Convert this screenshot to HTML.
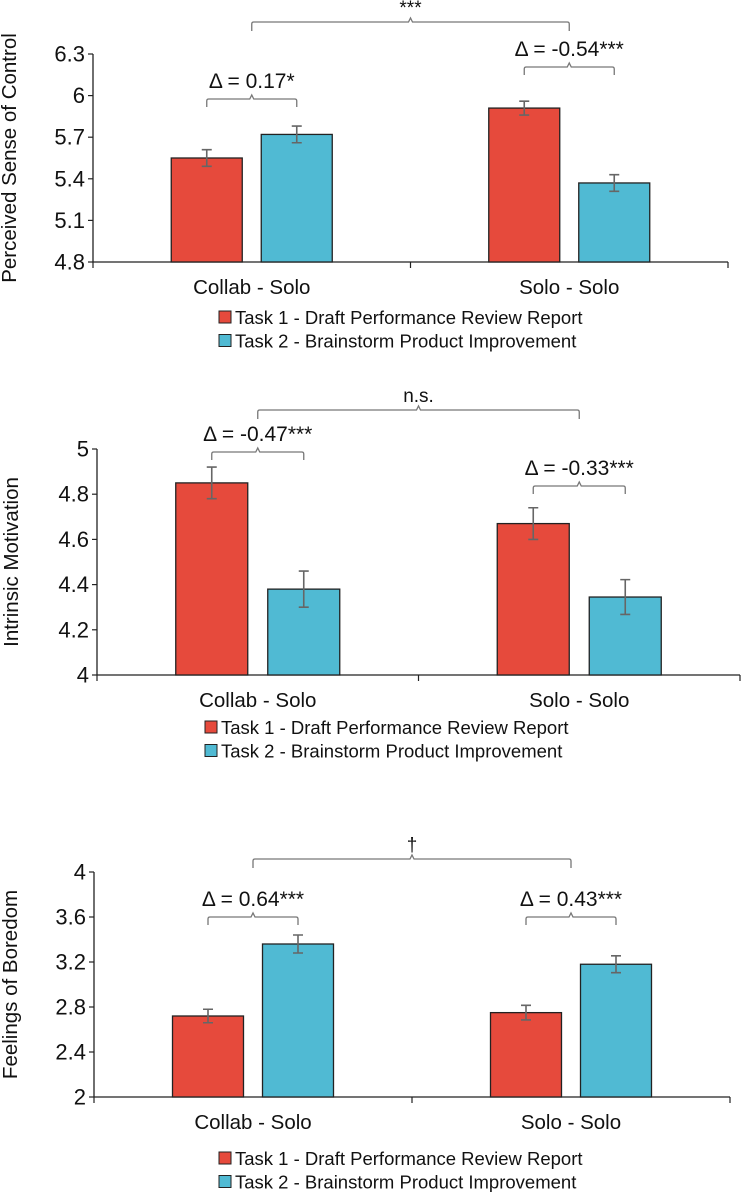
<!DOCTYPE html>
<html><head><meta charset="utf-8"><style>
body{margin:0;background:#fff}
svg{display:block;font-family:"Liberation Sans",Arial,sans-serif}
</style></head><body>
<svg id="s" width="741" height="1192" viewBox="0 0 741 1192"></svg>
<script>
const categories = ["Collab - Solo", "Solo - Solo"];
const seriesNames = ["Task 1 - Draft Performance Review Report", "Task 2 - Brainstorm Product Improvement"];
// chart 1: Perceived Sense of Control
const c1Task1 = [5.55, 5.91];
const c1Task2 = [5.72, 5.37];
const c1Err1 = [0.06, 0.05];
const c1Err2 = [0.06, 0.06];
const c1Ticks = [4.8, 5.1, 5.4, 5.7, 6, 6.3];
const c1Deltas = ["Δ = 0.17*", "Δ = -0.54***"];
const c1Top = "***";
// chart 2: Intrinsic Motivation
const c2Task1 = [4.85, 4.67];
const c2Task2 = [4.38, 4.345];
const c2Err1 = [0.07, 0.07];
const c2Err2 = [0.08, 0.077];
const c2Ticks = [4, 4.2, 4.4, 4.6, 4.8, 5];
const c2Deltas = ["Δ = -0.47***", "Δ = -0.33***"];
const c2Top = "n.s.";
// chart 3: Feelings of Boredom
const c3Task1 = [2.72, 2.75];
const c3Task2 = [3.36, 3.18];
const c3Err1 = [0.06, 0.065];
const c3Err2 = [0.08, 0.075];
const c3Ticks = [2, 2.4, 2.8, 3.2, 3.6, 4];
const c3Deltas = ["Δ = 0.64***", "Δ = 0.43***"];
const c3Top = "†";

const NS="http://www.w3.org/2000/svg";
const svg=document.getElementById('s');
function mk(tag,attrs,parent,text){const e=document.createElementNS(NS,tag);for(const k in attrs)e.setAttribute(k,attrs[k]);if(text!==undefined)e.textContent=text;(parent||svg).appendChild(e);return e;}

function chart(o){
  const g=mk('g',{});
  
  
  const y=v=>o.y0-(v-o.min)/(o.max-o.min)*(o.y0-o.y1);
  const gw=(o.x1-o.x0)/categories.length;
  const cx=i=>o.x0+gw*(i+0.5);
  const ax=mk('path',{d:`M${o.x0} ${o.y1}V${o.y0}H${o.x1}`,stroke:'#222','stroke-width':1.3,fill:'none'},g);
  
  
  o.ticks.forEach(t=>{
    mk('line',{x1:o.x0-5,x2:o.x0,y1:y(t),y2:y(t),stroke:'#222','stroke-width':1.2},g);
    const tl=mk('text',{x:o.x0-8,y:y(t)+7.5,'text-anchor':'end','font-size':22,fill:'#111'},g,String(t));
    
    
  });
  for(let i=0;i<=categories.length;i++){
    const xx=o.x0+gw*i;
    mk('line',{x1:xx,x2:xx,y1:o.y0,y2:o.y0+6,stroke:'#222','stroke-width':1.2},g);
  }
  const yt=mk('text',{transform:`translate(${o.titleX},${(o.y0+o.y1)/2}) rotate(-90)`,'text-anchor':'middle','font-size':20.5,fill:'#111'},g,o.title);
  
  
  const series=[[o.s1,o.e1,'#e64a3c'],[o.s2,o.e2,'#50bad3']];
  categories.forEach((c,i)=>{
    series.forEach((s,j)=>{
      const bx=cx(i)+(j===0?-o.off:o.off)-o.bw/2;
      const top=y(s[0][i]);
      const b=mk('rect',{x:bx,y:top,width:o.bw,height:o.y0-top,fill:s[2],stroke:'#222','stroke-width':1.3},g);
      
      
      const mx=bx+o.bw/2,ea=y(s[0][i]+s[1][i]),eb=y(s[0][i]-s[1][i]);
      const eb1=mk('path',{d:`M${mx} ${ea}V${eb}M${mx-5} ${ea}H${mx+5}M${mx-5} ${eb}H${mx+5}`,stroke:'#666','stroke-width':1.6,fill:'none'},g);
      
      
    });
    const cl=mk('text',{x:cx(i),y:o.y0+32,'text-anchor':'middle','font-size':20.5,fill:'#111'},g,c);
    
    
    const lx=cx(i)-o.off,rx=cx(i)+o.off,by=o.dy[i],m=(lx+rx)/2;
    const br=mk('path',{d:`M${lx} ${by+8}V${by+2}Q${lx} ${by} ${lx+2} ${by}H${m-2}L${m} ${by-4}L${m+2} ${by}H${rx-2}Q${rx} ${by} ${rx} ${by+2}V${by+8}`,stroke:'#777','stroke-width':1.3,fill:'none'},g);
    
    
    const dt=mk('text',{x:m,y:by-11,'text-anchor':'middle','font-size':21,fill:'#111'},g,o.deltas[i]);
    
    
  });
  const tl=cx(0),tr=cx(1),ty=o.ty,tm=(tl+tr)/2;
  const tb=mk('path',{d:`M${tl} ${ty+9}V${ty+2}Q${tl} ${ty} ${tl+2} ${ty}H${tm-2}L${tm} ${ty-4}L${tm+2} ${ty}H${tr-2}Q${tr} ${ty} ${tr} ${ty+2}V${ty+9}`,stroke:'#777','stroke-width':1.3,fill:'none'},g);
  
  
  const tt=mk('text',{x:tm,y:ty-8,'text-anchor':'middle','font-size':19,fill:'#111'},g,o.top);
  
  
  seriesNames.forEach((n,j)=>{
    const ly=o.ly+j*23.5;
    const sw=mk('rect',{x:o.lx,y:ly-13,width:12,height:12,fill:j?'#50bad3':'#e64a3c',stroke:'#222','stroke-width':1},g);
    
    
    const lt=mk('text',{x:o.lx+16,y:ly,'font-size':18.5,fill:'#111'},g,n);
    
    
  });
}
chart({name:'chart-sense-of-control',x0:93,x1:728,y0:262,y1:54,min:4.8,max:6.3,ticks:c1Ticks,s1:c1Task1,s2:c1Task2,e1:c1Err1,e2:c1Err2,off:45,bw:71,title:'Perceived Sense of Control',titleX:16,deltas:c1Deltas,dy:[99,67],top:c1Top,ty:22,lx:219,ly:324});
chart({name:'chart-intrinsic-motivation',x0:97,x1:740,y0:675,y1:449,min:4,max:5,ticks:c2Ticks,s1:c2Task1,s2:c2Task2,e1:c2Err1,e2:c2Err2,off:46,bw:72,title:'Intrinsic Motivation',titleX:18,deltas:c2Deltas,dy:[452,486],top:c2Top,ty:410,lx:205,ly:734});
chart({name:'chart-feelings-of-boredom',x0:94,x1:730,y0:1097,y1:872,min:2,max:4,ticks:c3Ticks,s1:c3Task1,s2:c3Task2,e1:c3Err1,e2:c3Err2,off:45,bw:71,title:'Feelings of Boredom',titleX:17,deltas:c3Deltas,dy:[917,917],top:c3Top,ty:859,lx:219,ly:1165});
</script>
</body></html>
